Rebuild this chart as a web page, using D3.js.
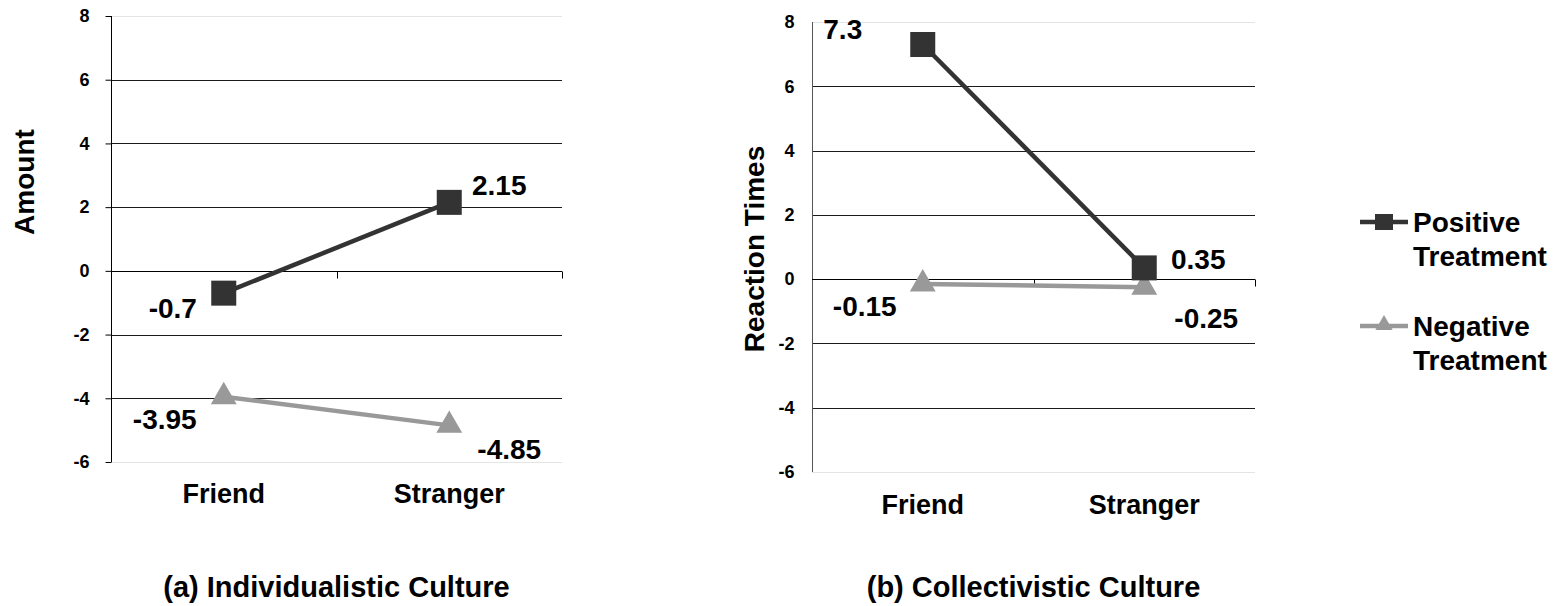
<!DOCTYPE html>
<html>
<head>
<meta charset="utf-8">
<script src="https://cdn.jsdelivr.net/npm/d3@7"></script>
<style>
  html, body { margin: 0; padding: 0; background: #fff; }
  svg { display: block; font-family: "Liberation Sans", Arial, sans-serif; font-weight: bold; }
</style>
</head>
<body>
<svg id="chart" width="1560" height="606"></svg>
<script>
// ---- data ----
const categories = ["Friend", "Stranger"];
const seriesNames = ["Positive Treatment", "Negative Treatment"];
const yTicks = [-6, -4, -2, 0, 2, 4, 6, 8];
const individualisticPositive = [-0.7, 2.15];
const individualisticNegative = [-3.95, -4.85];
const collectivisticPositive = [7.3, 0.35];
const collectivisticNegative = [-0.15, -0.25];
const panelTitles = ["(a) Individualistic Culture", "(b) Collectivistic Culture"];
const axisTitles = ["Amount", "Reaction Times"];

// ---- layout (not data) ----
const panels = [
  { x0: 111, x1: 562, yTop: 16, yBot: 462, catY: 494, titleY: 587, axisTitleX: 24, axisTitleY: 182,
    outerTick: 6, tickPad: 16, axisColor: "#000",
    pos: individualisticPositive, neg: individualisticNegative,
    posOff: [[-51, 15], [50, -17]], negOff: [[-59, 23], [60, 24]] },
  { x0: 812, x1: 1255, yTop: 22, yBot: 472, catY: 505, titleY: 587, axisTitleX: 754, axisTitleY: 249,
    outerTick: 0, tickPad: 18, axisColor: "#555",
    pos: collectivisticPositive, neg: collectivisticNegative,
    posOff: [[-80, -15], [54, -8]], negOff: [[-58, 23], [62, 31]] }
];
const darkColor = "#333333";
const grayColor = "#999999";

const svg = d3.select("#chart");

panels.forEach((p, pi) => {
  const g = svg.append("g");
  const x = d3.scaleBand().domain(categories).range([p.x0, p.x1]).padding(0);
  const y = d3.scaleLinear().domain([-6, 8]).range([p.yBot, p.yTop]);
  const cx = d => x(d) + x.bandwidth() / 2;

  // gridlines
  g.append("g").selectAll("line").data(yTicks.filter(t => t !== 0)).join("line")
    .attr("x1", p.x0).attr("x2", p.x1)
    .attr("y1", d => Math.round(y(d)) + 0.5).attr("y2", d => Math.round(y(d)) + 0.5)
    .attr("stroke", d => (d === 8 || d === -6) ? "#e4e4e4" : "#1a1a1a")
    .attr("stroke-width", 1);

  // y axis
  const yAxis = d3.axisLeft(y).tickValues(yTicks).tickSizeInner(p.outerTick).tickSizeOuter(0)
    .tickPadding(p.tickPad).tickFormat(d => String(d));
  const ya = g.append("g").attr("transform", `translate(${p.x0 + 0.5},0)`).call(yAxis);
  ya.select(".domain").attr("stroke", p.axisColor).attr("d", `M0,${p.yTop}V${p.yBot}`);
  ya.selectAll(".tick line").attr("stroke", "#000");
  ya.selectAll(".tick text").attr("font-size", 18).attr("font-weight", "bold")
    .attr("font-family", "Liberation Sans, Arial, sans-serif").attr("fill", "#000");

  // x axis at zero with ticks at category boundaries
  const zy = Math.round(y(0)) + 0.5;
  g.append("line").attr("x1", p.x0).attr("x2", p.x1).attr("y1", zy).attr("y2", zy)
    .attr("stroke", "#000").attr("stroke-width", 1);
  const bounds = categories.map(c => x(c) + x.bandwidth()).filter(v => v > p.x0);
  g.append("g").selectAll("line").data(bounds).join("line")
    .attr("x1", d => Math.round(d) + 0.5).attr("x2", d => Math.round(d) + 0.5)
    .attr("y1", zy).attr("y2", zy + 7).attr("stroke", "#000");

  // category labels
  g.append("g").selectAll("text").data(categories).join("text")
    .attr("x", d => cx(d)).attr("y", p.catY).attr("text-anchor", "middle")
    .attr("dominant-baseline", "central").attr("font-size", 27).text(d => d);

  // axis title
  g.append("text").attr("transform", `translate(${p.axisTitleX},${p.axisTitleY}) rotate(-90)`)
    .attr("text-anchor", "middle").attr("dominant-baseline", "central")
    .attr("font-size", 28).text(axisTitles[pi]);

  // panel title
  g.append("text").attr("x", (p.x0 + p.x1) / 2).attr("y", p.titleY)
    .attr("text-anchor", "middle").attr("dominant-baseline", "central")
    .attr("font-size", 29).text(panelTitles[pi]);

  const line = d3.line().x((d, i) => cx(categories[i])).y(d => y(d));

  // negative series
  g.append("path").datum(p.neg).attr("d", line).attr("fill", "none")
    .attr("stroke", grayColor).attr("stroke-width", 4.5);
  g.append("g").selectAll("path").data(p.neg).join("path")
    .attr("d", d3.symbol(d3.symbolTriangle, 290))
    .attr("transform", (d, i) => `translate(${cx(categories[i])},${y(d)})`)
    .attr("fill", grayColor);

  // positive series
  g.append("path").datum(p.pos).attr("d", line).attr("fill", "none")
    .attr("stroke", darkColor).attr("stroke-width", 4.5);
  g.append("g").selectAll("rect").data(p.pos).join("rect")
    .attr("x", (d, i) => cx(categories[i]) - 12.5).attr("y", d => y(d) - 12.5)
    .attr("width", 25).attr("height", 25).attr("fill", darkColor);

  // data labels
  const lbl = (vals, offs) => g.append("g").selectAll("text").data(vals).join("text")
    .attr("x", (d, i) => cx(categories[i]) + offs[i][0])
    .attr("y", (d, i) => y(d) + offs[i][1])
    .attr("text-anchor", "middle").attr("dominant-baseline", "central")
    .attr("font-size", 28).text(d => String(d));
  lbl(p.pos, p.posOff);
  lbl(p.neg, p.negOff);
});

// legend
const legend = svg.append("g");
const legendRows = [
  { name: seriesNames[0], color: darkColor, marker: "square", y: 222 },
  { name: seriesNames[1], color: grayColor, marker: "triangle", y: 326 }
];
legendRows.forEach(r => {
  legend.append("line").attr("x1", 1360).attr("x2", 1408).attr("y1", r.y).attr("y2", r.y)
    .attr("stroke", r.color).attr("stroke-width", 4.5);
  if (r.marker === "square") {
    legend.append("rect").attr("x", 1375).attr("y", r.y - 8).attr("width", 18).attr("height", 16)
      .attr("fill", r.color);
  } else {
    legend.append("path").attr("d", d3.symbol(d3.symbolTriangle, 130))
      .attr("transform", `translate(1384,${r.y - 1})`).attr("fill", r.color);
  }
  const words = r.name.split(" ");
  const t = legend.append("text").attr("x", 1413).attr("y", r.y)
    .attr("dominant-baseline", "central").attr("font-size", 28);
  t.append("tspan").attr("x", 1413).attr("dy", 0).text(words[0]);
  t.append("tspan").attr("x", 1413).attr("dy", 34).text(words[1]);
});
</script>
</body>
</html>
